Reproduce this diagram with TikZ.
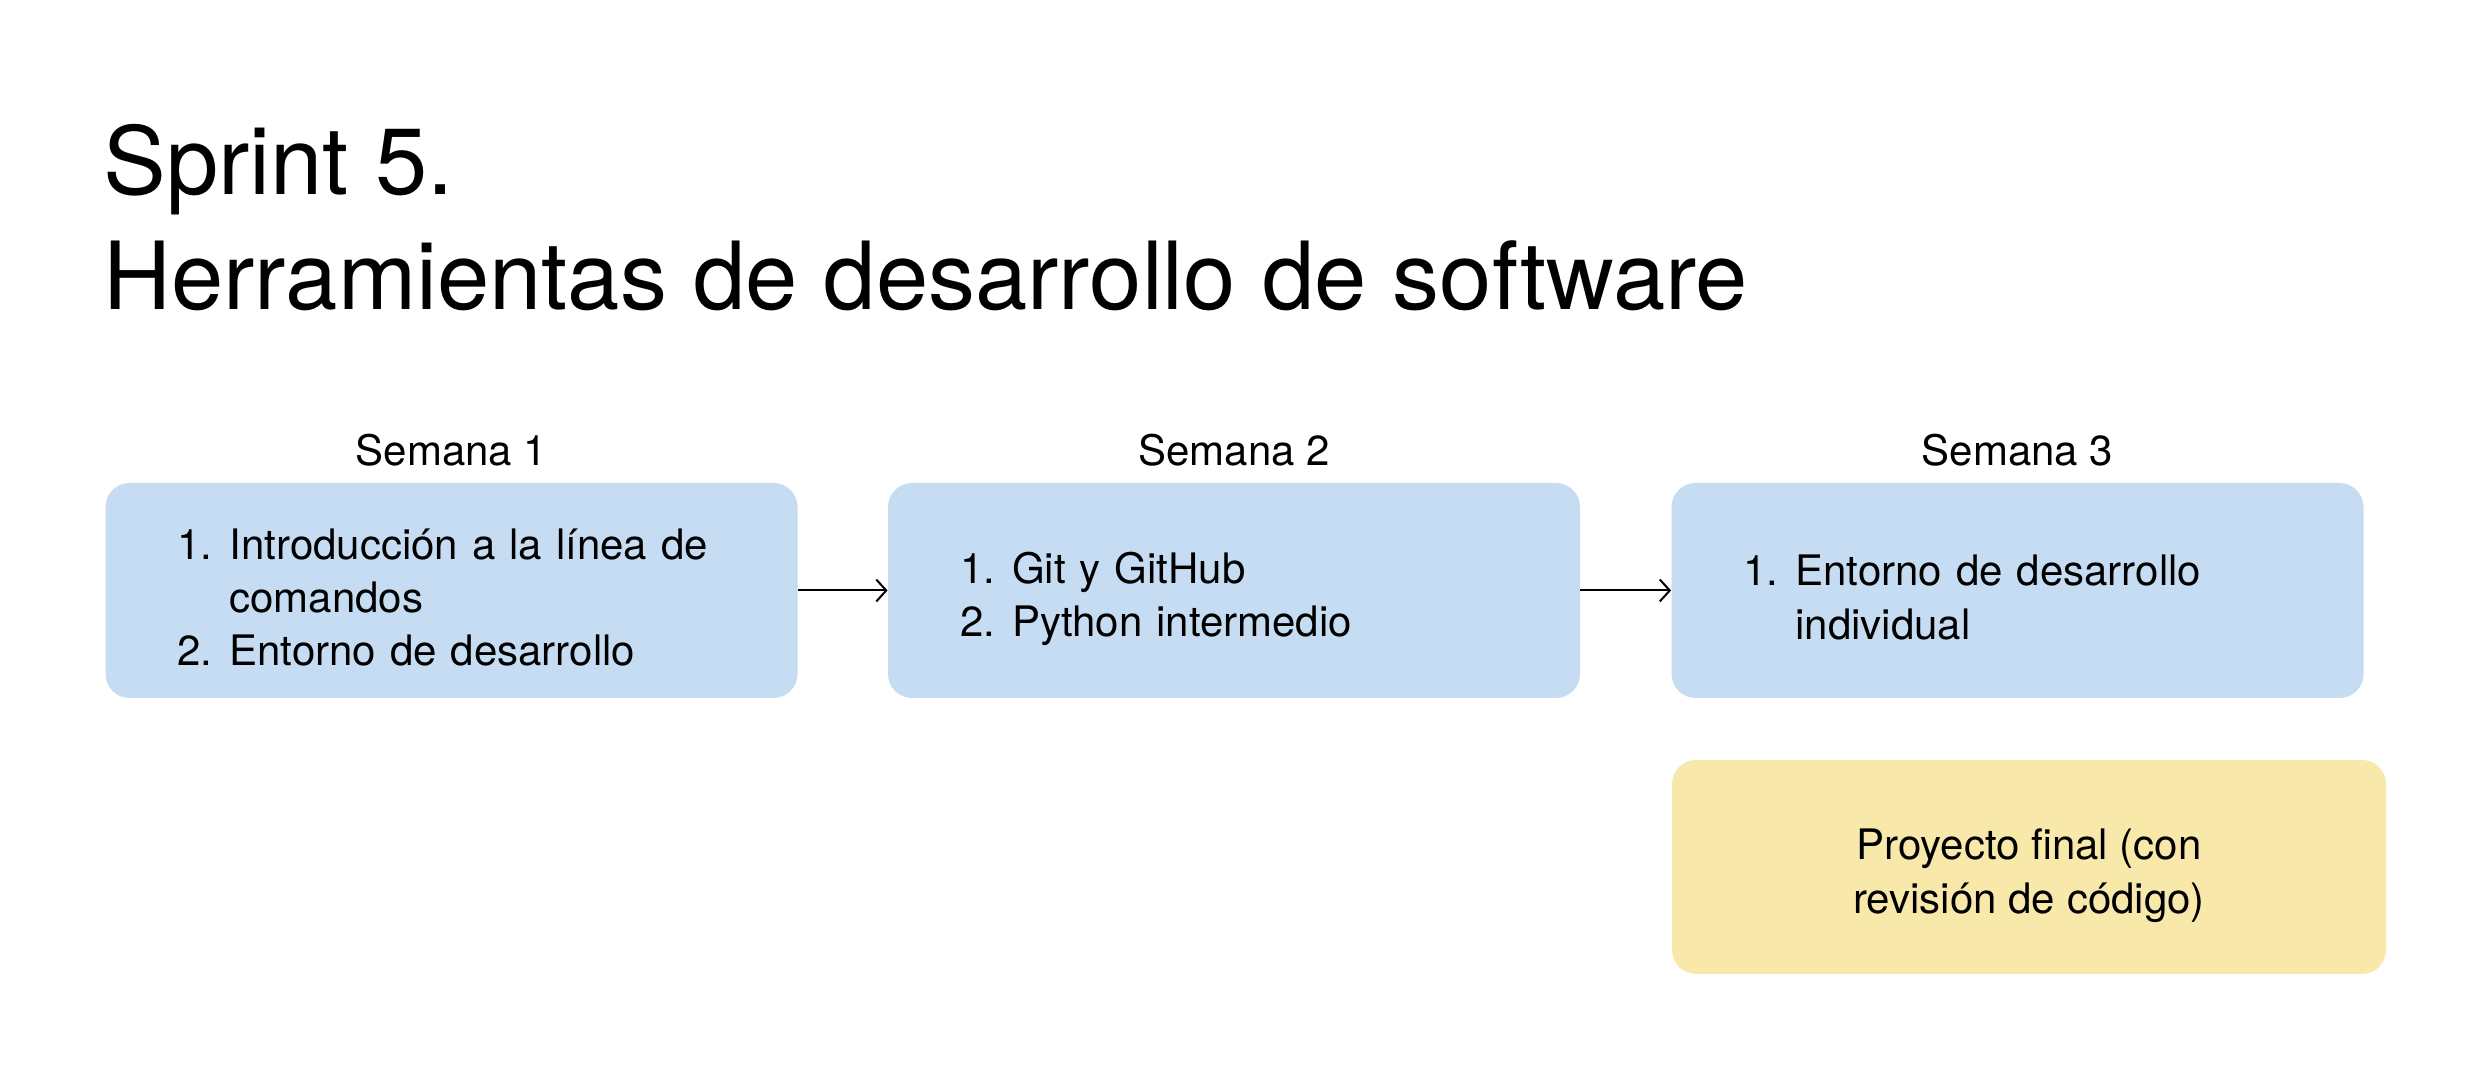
\documentclass[tikz,border=0pt]{standalone}
\usepackage{fontspec}
\setmainfont{TeX Gyre Heros}
\usetikzlibrary{arrows.meta,%
	positioning}
\definecolor{weekblue}{RGB}{197,220,242}
\definecolor{finalyellow}{RGB}{248,233,170}
\newcommand{\itemnum}[1]{\makebox[26pt][l]{#1}}
\newcommand{\topstrut}{\rule{0pt}{24pt}}
\newcommand{\botstrut}{\rule[-2pt]{0pt}{0pt}}

\begin{document}
\begin{tikzpicture}[x=0.5pt,y=0.5pt,
	week_node/.style={rectangle,rounded corners=12pt,fill=weekblue,minimum width=346pt,minimum height=107.5pt,text width=274pt,inner xsep=36pt,align=left,font=\fontsize{21}{26.7}\selectfont},
	final_node/.style={rectangle,rounded corners=12pt,fill=finalyellow,minimum width=357pt,minimum height=107pt,align=center,font=\fontsize{21}{26.7}\selectfont},
	week_label/.style={inner sep=0pt,font=\fontsize{21}{26.7}\selectfont},
	title_node/.style={anchor=base west,inner sep=0pt,font=\fontsize{47}{58}\selectfont},
	week_arrow/.style={line width=1pt,-{Straight Barb[length=5pt,width=11pt]}}]

		\useasboundingbox (0,0) rectangle (2492,1080);

		\node[title_node] (title) at (103,885) {Sprint 5.};
		\node[title_node] (subtitle) at (103,770) {Herramientas de desarrollo de software};

		\node[week_node] (wk1) at (451.5,489.5) {\topstrut\itemnum{1.}Introducción a la línea de\\\hspace*{26pt}comandos\\\itemnum{2.}Entorno de desarrollo\botstrut};
		\node[week_node] (wk2) at (1234,489.5) {\topstrut\itemnum{1.}Git y GitHub\\\itemnum{2.}Python intermedio\botstrut};
		\node[week_node] (wk3) at (2017.5,489.5) {\topstrut\itemnum{1.}Entorno de desarrollo\\\hspace*{26pt}individual\botstrut};
		\node[final_node] (final) at (2029,213) {\topstrut Proyecto final (con\\revisión de código)\botstrut};

		\node[week_label,above=8pt of wk1] (lab1) {Semana 1};
		\node[week_label,above=8pt of wk2] (lab2) {Semana 2};
		\node[week_label,above=8pt of wk3] (lab3) {Semana 3};

		\draw[week_arrow] (wk1) -- (wk2);
		\draw[week_arrow] (wk2) -- (wk3);
		\end{tikzpicture}
\end{document}
